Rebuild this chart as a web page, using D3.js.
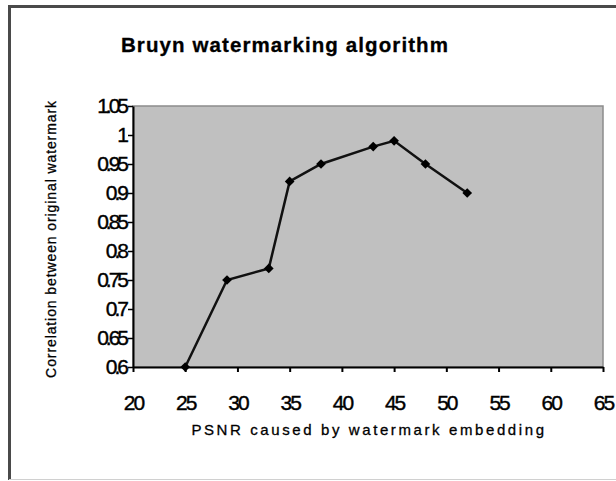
<!DOCTYPE html>
<html>
<head>
<meta charset="utf-8">
<script src="https://cdn.jsdelivr.net/npm/d3@7"></script>
<style>
    body { margin: 0; background: #fff; }
    text { font-family: Arial, "Liberation Sans", sans-serif; fill: #000; }
</style>
</head>
<body>
<svg width="616" height="481"></svg>
<script>
// PSNR (dB) vs correlation
const psnr        = [25, 29, 33, 35, 38, 43, 45, 48, 52];
const correlation = [0.60, 0.75, 0.77, 0.92, 0.95, 0.98, 0.99, 0.95, 0.90];
const xTicks = [20, 25, 30, 35, 40, 45, 50, 55, 60, 65];
const yTicks = [0.6, 0.65, 0.7, 0.75, 0.8, 0.85, 0.9, 0.95, 1, 1.05];

const svg = d3.select("svg");

const plot = { left: 133, right: 603, top: 106, bottom: 367 };

// chart frame (cut off right)
svg.append("path")
    .attr("d", "M9.5,480 V6.5 H620")
    .attr("fill", "none")
    .attr("stroke", "#4a4a4a")
    .attr("stroke-width", 3);
svg.append("line")
    .attr("x1", 9).attr("x2", 616)
    .attr("y1", 479.5).attr("y2", 479.5)
    .attr("stroke", "#d0d0d0");

const x = d3.scaleLinear().domain([20, 65]).range([plot.left, plot.right]);
const y = d3.scaleLinear().domain([0.6, 1.05]).range([plot.bottom, plot.top]);

// plot area
svg.append("rect")
    .attr("x", plot.left)
    .attr("y", plot.top)
    .attr("width", plot.right - plot.left)
    .attr("height", plot.bottom - plot.top)
    .attr("fill", "#c0c0c0")
    .attr("stroke", "#8c8c8c")
    .attr("stroke-width", 1.5);

svg.append("text")
    .attr("x", 285)
    .attr("y", 52)
    .attr("text-anchor", "middle")
    .attr("font-size", 20.5)
    .attr("font-weight", "bold")
    .attr("letter-spacing", 1.1)
    .attr("stroke", "#000").attr("stroke-width", 0.3)
    .text("Bruyn watermarking algorithm");

const xAxis = svg.append("g")
    .attr("transform", `translate(0,${plot.bottom})`)
    .call(d3.axisBottom(x).tickValues(xTicks).tickSize(5).tickPadding(23).tickSizeOuter(0));
xAxis.select(".domain").attr("stroke", "#000").attr("stroke-width", 2);
xAxis.selectAll(".tick line").attr("stroke", "#000").attr("stroke-width", 2);
xAxis.selectAll(".tick text")
    .attr("font-size", 21)
    .attr("letter-spacing", -2)
    .attr("stroke", "#000").attr("stroke-width", 0.4)
    .attr("font-family", "Arial, 'Liberation Sans', sans-serif");

const yAxis = svg.append("g")
    .attr("transform", `translate(${plot.left},0)`)
    .call(d3.axisLeft(y).tickValues(yTicks).tickSize(5).tickPadding(2).tickSizeOuter(0)
        .tickFormat(d => String(d)));
yAxis.select(".domain").attr("stroke", "#000").attr("stroke-width", 2);
yAxis.selectAll(".tick line").attr("stroke", "#000").attr("stroke-width", 1.5);
yAxis.selectAll(".tick text")
    .attr("font-size", 21)
    .attr("letter-spacing", -3)
    .attr("stroke", "#000").attr("stroke-width", 0.4)
    .attr("font-family", "Arial, 'Liberation Sans', sans-serif");

svg.append("text")
    .attr("x", 369)
    .attr("y", 435)
    .attr("text-anchor", "middle")
    .attr("font-size", 15)
    .attr("letter-spacing", 2.6)
    .attr("stroke", "#000").attr("stroke-width", 0.3)
    .text("PSNR caused by watermark embedding");

svg.append("text")
    .attr("transform", "translate(56,239) rotate(-90)")
    .attr("text-anchor", "middle")
    .attr("font-size", 14)
    .attr("letter-spacing", 0.9)
    .attr("stroke", "#000").attr("stroke-width", 0.3)
    .text("Correlation between original watermark");

const points = psnr.map((v, i) => [v, correlation[i]]);

svg.append("path")
    .datum(points)
    .attr("fill", "none")
    .attr("stroke", "#111")
    .attr("stroke-width", 2.5)
    .attr("d", d3.line().x(d => x(d[0])).y(d => y(d[1])));

svg.append("g")
    .selectAll("path")
    .data(points)
    .enter().append("path")
    .attr("transform", d => `translate(${x(d[0])},${y(d[1])})`)
    .attr("d", d3.symbol(d3.symbolDiamond2, 60))
    .attr("fill", "#000");
</script>
</body>
</html>
